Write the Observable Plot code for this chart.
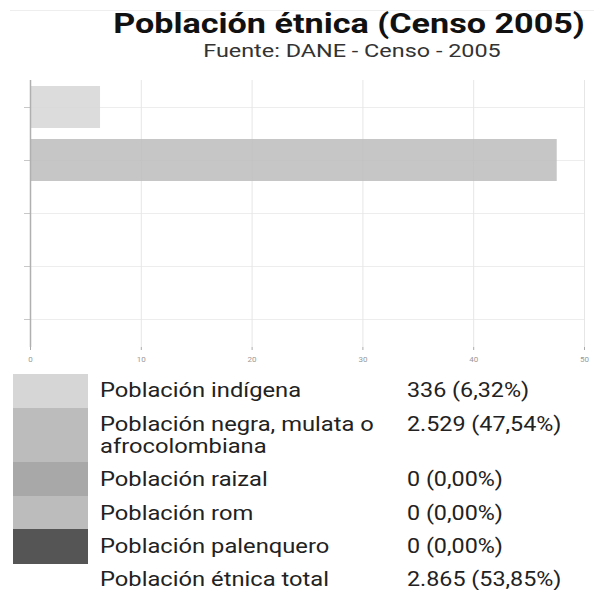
<!DOCTYPE html>
<html>
<head>
<meta charset="utf-8">
<script src="https://cdn.jsdelivr.net/npm/d3@7"></script>
<script src="https://cdn.jsdelivr.net/npm/@observablehq/plot@0.6"></script>
<style>
  html, body { margin: 0; padding: 0; background: #fff; }
  body { width: 594px; height: 590px; position: relative; overflow: hidden; font-family: Roboto, "Noto Sans", sans-serif; }
  .topline { position: absolute; left: 10px; right: 0; top: 10px; height: 1px; background: #eeeeee; }
  #title { position: absolute; left: 349px; top: 10px; transform: translateX(-50%) scaleX(1.22); white-space: nowrap;
           font-size: 28px; font-weight: 700; color: #111; line-height: 28px; }
  #subtitle { position: absolute; left: 352px; top: 42px; transform: translateX(-50%) scaleX(1.3); white-space: nowrap;
              font-size: 18px; color: #333; line-height: 18px; }
  #chart { position: absolute; left: 0; top: 70px; }
  #legend { position: absolute; left: 13px; top: 374px; font-size: 21px; color: #222; }
  .row { position: relative; width: 575px; }
  .sw { position: absolute; left: 0; top: 0; bottom: 0; width: 75px; }
  .lab { position: absolute; left: 87px; line-height: 22px; transform: scaleX(1.13); transform-origin: 0 0; white-space: nowrap; }
  .val { position: absolute; left: 394px; line-height: 22px; white-space: nowrap; transform: scaleX(1.11); transform-origin: 0 0; }
</style>
</head>
<body>
<div class="topline"></div>
<div id="title"></div>
<div id="subtitle"></div>
<div id="chart"></div>
<div id="legend"></div>
<script>
const titleText = "Población étnica (Censo 2005)";
const subtitleText = "Fuente: DANE - Censo - 2005";
const categories = ["Población indígena", "Población negra, mulata o afrocolombiana", "Población raizal", "Población rom", "Población palenquero"];
const labelLines = [["Población indígena"], ["Población negra, mulata o", "afrocolombiana"], ["Población raizal"], ["Población rom"], ["Población palenquero"]];
const counts = [336, 2529, 0, 0, 0];
const percents = [6.32, 47.54, 0, 0, 0];
const valueLabels = ["336 (6,32%)", "2.529 (47,54%)", "0 (0,00%)", "0 (0,00%)", "0 (0,00%)"];
const colors = ["#d6d6d6", "#bcbcbc", "#a8a8a8", "#bcbcbc", "#555555"];
const totalLabel = "Población étnica total";
const totalValue = "2.865 (53,85%)";
const xTicks = [0, 10, 20, 30, 40, 50];

document.getElementById("title").textContent = titleText;
document.getElementById("subtitle").textContent = subtitleText;

const data = categories.map((c, i) => ({cat: c, pct: percents[i], count: counts[i], color: colors[i]}));

const chart = Plot.plot({
  width: 594,
  height: 300,
  marginLeft: 30,
  marginRight: 10,
  marginTop: 10,
  marginBottom: 23,
  style: {fontFamily: "Roboto, sans-serif", background: "#fff"},
  x: {domain: [0, 50], ticks: xTicks, label: null},
  y: {domain: categories, paddingInner: 0.2, paddingOuter: 0.1, axis: null, label: null},
  color: {domain: categories, range: colors},
  marks: [
    Plot.gridY(categories, {stroke: "#ededed", strokeOpacity: 1, strokeWidth: 1}),
    Plot.gridX(xTicks, {stroke: "#e6e6e6", strokeOpacity: 1, strokeWidth: 1}),
    Plot.axisY(categories, {tickSize: 6, tickFormat: () => "", stroke: "#c8c8c8", label: null}),
    Plot.barX(data, {y: "cat", x: "pct", fill: "cat", fillOpacity: 0.85}),
    Plot.ruleX([0], {stroke: "#b0b0b0", strokeWidth: 1.5}),
    Plot.ruleY([0], {stroke: "#b0b0b0", strokeWidth: 1.5}),
    Plot.axisX(xTicks, {tickSize: 3, tickPadding: 6, stroke: "#aaa", fill: "#999", fontSize: 8, label: null, tickFormat: d => String(d)})
  ]
});
document.getElementById("chart").appendChild(chart);

const legend = document.getElementById("legend");
const rowHeights = [34, 54, 34, 33, 35];
const labelTops = [5, 5, 6, 6, 6];
categories.forEach((c, i) => {
  const row = document.createElement("div");
  row.className = "row";
  row.style.height = rowHeights[i] + "px";
  const sw = document.createElement("div");
  sw.className = "sw";
  sw.style.background = colors[i];
  row.appendChild(sw);
  const lab = document.createElement("div");
  lab.className = "lab";
  lab.style.top = labelTops[i] + "px";
  lab.innerHTML = labelLines[i].join("<br>");
  row.appendChild(lab);
  const val = document.createElement("div");
  val.className = "val";
  val.style.top = labelTops[i] + "px";
  val.textContent = valueLabels[i];
  row.appendChild(val);
  legend.appendChild(row);
});
const trow = document.createElement("div");
trow.className = "row";
trow.style.height = "30px";
const tl = document.createElement("div");
tl.className = "lab"; tl.style.top = "4px"; tl.textContent = totalLabel;
const tv = document.createElement("div");
tv.className = "val"; tv.style.top = "4px"; tv.textContent = totalValue;
trow.appendChild(tl); trow.appendChild(tv);
legend.appendChild(trow);
</script>
</body>
</html>
